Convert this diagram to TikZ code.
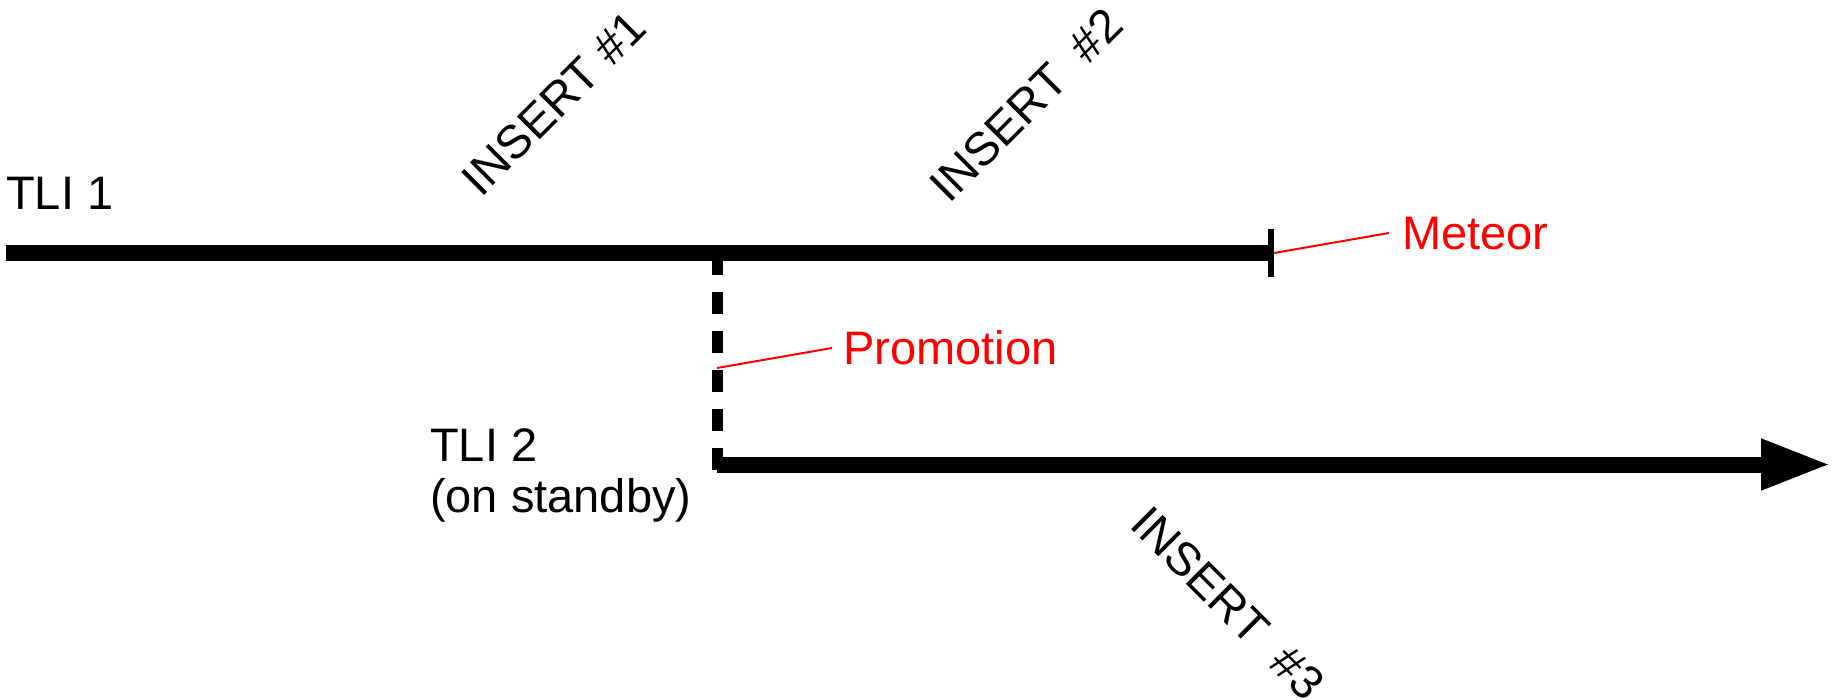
\documentclass[tikz,border=0pt]{standalone}
\usepackage{fontspec}
\setmainfont{Liberation Sans}
\usetikzlibrary{arrows.meta}
\begin{document}
\begin{tikzpicture}[x=1pt,y=-1pt,
  lbl/.style={inner sep=0pt,font=\fontsize{47}{51}\selectfont},
  redlbl/.style={lbl,text=red},
  tline/.style={line width=16pt},
  leader/.style={draw=red,line width=2pt}]
\useasboundingbox (0,0) rectangle (1833,700);

% timeline anchors
\coordinate (t1start) at (6,253);
\coordinate (t1end)   at (1271,253);
\coordinate (fork)    at (717.5,253);
\coordinate (forkend) at (717.5,470);
\coordinate (t2start) at (717,464.5);
\coordinate (t2end)   at (1831,464.5);

% TLI 1 main timeline with meteor end tick
\draw[tline] (t1start) -- (t1end);
\draw[line width=6pt] (1271,229) -- (1271,277);

% promotion branch and TLI 2 timeline
\draw[line width=11pt,dash pattern=on 22pt off 17pt] (fork) -- (forkend);
\draw[tline,-{Triangle[length=70pt,width=47pt]}] (t2start) -- (t2end);

% labels (base of a two-line node is its last line)
\node[lbl,anchor=base west] (tli1) at (6,210) {TLI 1};
\node[lbl,anchor=base west,align=left] (tli2) at (430,512) {TLI 2\\(on standby)};
\node[lbl,rotate=45] (ins1) at (554,103) {INSERT \#1};
\node[lbl,rotate=45] (ins2) at (1026,105) {INSERT~~\#2};
\node[lbl,rotate=-45] (ins3) at (1228,603) {INSERT~~\#3};
\node[redlbl,anchor=base west] (promo) at (843,364) {Promotion};
\node[redlbl,anchor=base west] (meteor) at (1402,250) {Meteor};

% leader lines
\coordinate (promoPt) at (717,368);
\coordinate (promoLd) at (832,348);
\coordinate (meteorPt) at (1274,253);
\coordinate (meteorLd) at (1389,233);
\draw[leader] (promoPt) -- (promoLd);
\draw[leader] (meteorPt) -- (meteorLd);
\end{tikzpicture}
\end{document}
